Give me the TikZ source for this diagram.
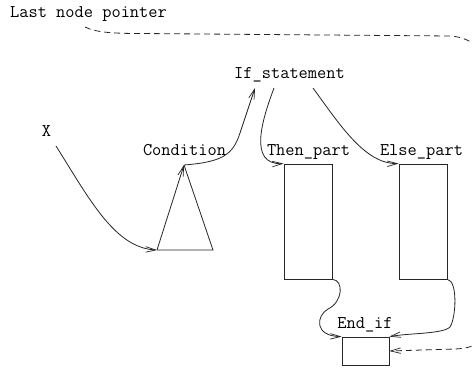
\documentclass[tikz,border=0pt]{standalone}
\usepackage{fontspec}
\usetikzlibrary{arrows.meta}
\tikzset{
  lbl/.style={inner sep=0pt, anchor=base, font=\ttfamily\fontsize{17.9}{20}\selectfont},
  line/.style={line width=0.8pt, draw=black!85},
  arr/.style={line, -{Straight Barb[length=10pt,width=5.5pt,line width=0.7pt]}},
  dsh/.style={arr, dash pattern=on 6pt off 4pt},
  part/.style={line, draw, minimum width=48pt, minimum height=115pt, inner sep=0pt}
}
\begin{document}
\begin{tikzpicture}[x=1pt,y=-1pt]
\clip (0,0) rectangle (472,369);
\fill[white] (0,0) rectangle (472,369);
% labels
\node[lbl] (last) at (88.5,17.5) {Last node pointer};
\node[lbl] (ifst) at (289.5,79) {If\_statement};
\node[lbl] (x) at (46.5,137) {X};
\node[lbl] (cond) at (184.5,156) {Condition};
\node[lbl] (thenl) at (308.5,156) {Then\_part};
\node[lbl] (elsel) at (421.5,156) {Else\_part};
\node[lbl] (endl) at (365,328) {End\_if};
% boxes
\node[part] (then) at (308,221.5) {};
\node[part] (else) at (423,221.5) {};
\node[line, draw, minimum width=47pt, minimum height=28pt, inner sep=0pt] (endif) at (365.5,351) {};
% triangle
\coordinate (tbl) at (157,250);
\coordinate (tbr) at (213,250);
\coordinate (tap) at (184,165);
\draw[line] (tap) -- (tbr) -- (tbl);
\draw[arr] (tbl) -- (tap);
% connector ends
\coordinate (xs) at (56,146);
\coordinate (ifin) at (255,88);
\coordinate (ifthen) at (274,88);
\coordinate (ifelse) at (313,88);
\coordinate (lastp) at (85,27);
% connectors
\draw[arr] (xs) .. controls (90,200) and (115,248) .. (tbl);
\draw[arr] (tap) .. controls (222,162) and (233,155) .. (240,133) -- (ifin);
\draw[arr] (ifthen) .. controls (262,120) and (248,165) .. (then.north west);
\draw[arr] (ifelse) .. controls (340,125) and (365,164) .. (else.north west);
\draw[arr] (then.south east) .. controls (344,280) and (343,302) .. (328,309)
   .. controls (316,316) and (314,336) .. (endif.north west);
\draw[arr] (else.south east) .. controls (458,281) and (456,318) .. (450,327)
   .. controls (443,334) and (410,333) .. (endif.north east);
\draw[dsh] (lastp) .. controls (95,32) and (110,33.5) .. (140,33.5) -- (450,36)
   .. controls (470,37) and (490,50) .. (495,80) -- (495,310)
   .. controls (490,340) and (478,348) .. (455,349) -- (endif.east);
\end{tikzpicture}
\end{document}
